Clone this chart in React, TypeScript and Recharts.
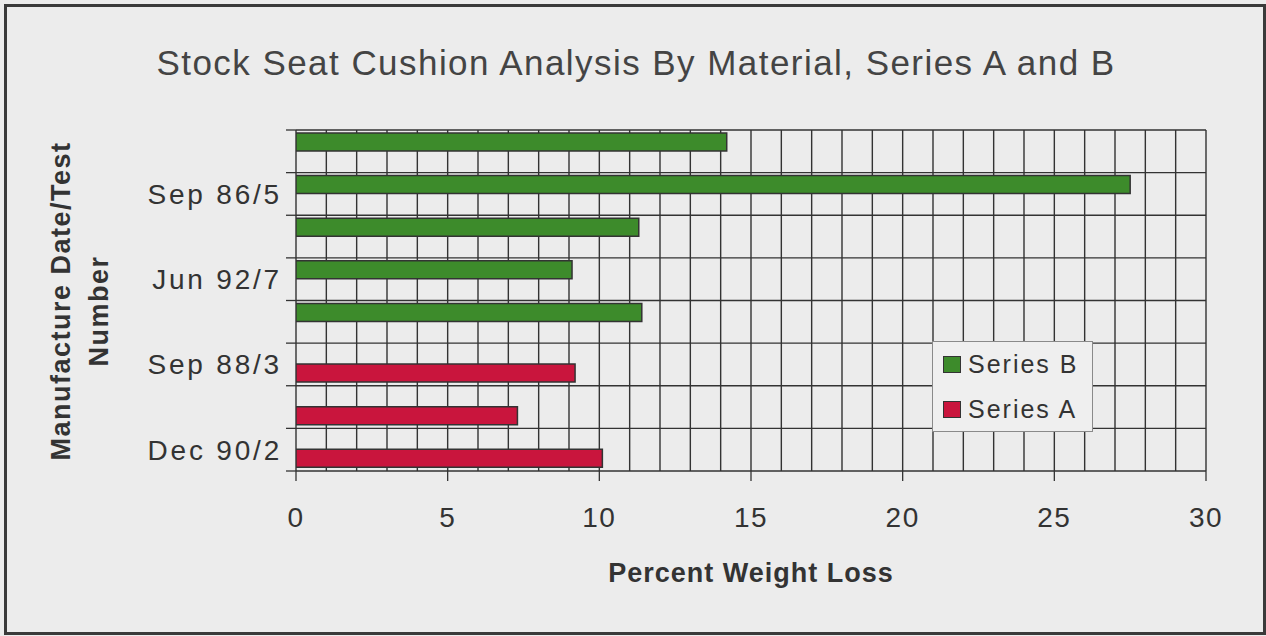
import React from "react";
import { BarChart, Bar, XAxis, YAxis, CartesianGrid, ReferenceLine, Legend } from "recharts";

const categories = ["", "Sep 86/5", "", "Jun 92/7", "", "Sep 88/3", "", "Dec 90/2"];
const seriesB = [14.2, 27.5, 11.3, 9.1, 11.4, null, null, null];
const seriesA = [null, null, null, null, null, 9.2, 7.3, 10.1];
const xTicks = [0, 5, 10, 15, 20, 25, 30];
const xGridTicks = Array.from({ length: 31 }, (_, i) => i);
const legendOrder = ["Series B", "Series A"];

const data = categories.map((c, i) => ({ id: i, label: c, B: seriesB[i], A: seriesA[i] }));

const GREEN = "#3d8b2b";
const RED = "#c9153d";
const INK = "#333333";
const BG = "#ececec";
const FONT = "'Liberation Sans', Arial, sans-serif";
const TICK_MARGIN = 14;
const TICK_LEN = 10;

const LegendBox = (props: any) => {
  const payload = [...(props.payload || [])].sort(
    (a: any, b: any) => legendOrder.indexOf(a.value) - legendOrder.indexOf(b.value)
  );
  return (
    <div
      style={{
        width: 161,
        height: 91,
        boxSizing: "border-box",
        border: "1px solid #8a8a8a",
        background: "#efefef",
        paddingLeft: 10,
      }}
    >
      {payload.map((p: any) => (
        <div key={p.value} style={{ display: "flex", alignItems: "center", height: 45 }}>
          <div
            style={{
              width: 16,
              height: 15,
              background: p.color,
              border: "1.5px solid #333",
              marginRight: 7,
            }}
          />
          <span style={{ fontFamily: FONT, fontSize: 25, letterSpacing: 2, color: INK }}>{p.value}</span>
        </div>
      ))}
    </div>
  );
};

const CatTick = (props: any) => {
  const { x, y, payload, index } = props;
  const idx = typeof index === "number" ? index : payload?.index ?? 0;
  const label = categories[idx] ?? "";
  const off = payload && typeof payload.offset === "number" ? payload.offset : 0;
  const edge = x + TICK_MARGIN;
  return (
    <g>
      {off > 0 && (
        <line x1={edge - TICK_LEN} x2={edge} y1={y - off} y2={y - off} stroke={INK} strokeWidth={1.3} />
      )}
      {off > 0 && idx === categories.length - 1 && (
        <line x1={edge - TICK_LEN} x2={edge} y1={y + off} y2={y + off} stroke={INK} strokeWidth={1.3} />
      )}
      <text
        x={x}
        y={y}
        dy="0.355em"
        textAnchor="end"
        fill={INK}
        fontSize={28}
        fontFamily={FONT}
        letterSpacing={2.8}
      >
        {label}
      </text>
    </g>
  );
};

export default function App() {
  return (
    <div style={{ position: "absolute", left: 0, top: 0, width: 1266, height: 636, background: BG, overflow: "hidden" }}>
      <BarChart
        width={1266}
        height={636}
        data={data}
        layout="vertical"
        margin={{ top: 130, right: 60, bottom: 105, left: 136 }}
        barCategoryGap="7%"
        barGap={0}
      >
        <CartesianGrid
          xAxisId={0}
          yAxisId={1}
          stroke={INK}
          strokeWidth={1.4}
          horizontal={false}
          verticalValues={xGridTicks}
        />
        <XAxis
          xAxisId={0}
          type="number"
          domain={[0, 30]}
          allowDataOverflow
          ticks={xTicks}
          tickSize={10}
          tickMargin={26}
          height={60}
          axisLine={false}
          tickLine={{ stroke: INK, strokeWidth: 1.3 }}
          tick={{ fill: INK, fontSize: 28, fontFamily: FONT, letterSpacing: 1.5 }}
          interval={0}
        />
        <YAxis
          yAxisId={1}
          type="category"
          dataKey="id"
          width={160}
          tickSize={0}
          tickMargin={TICK_MARGIN}
          axisLine={false}
          tickLine={false}
          interval={0}
          tick={<CatTick />}
        />
        {data.map((d) => (
          <ReferenceLine
            key={"hs" + d.id}
            y={d.id}
            xAxisId={0}
            yAxisId={1}
            position="start"
            stroke={INK}
            strokeWidth={1.4}
          />
        ))}
        <ReferenceLine
          y={data[data.length - 1].id}
          xAxisId={0}
          yAxisId={1}
          position="end"
          stroke={INK}
          strokeWidth={1.4}
        />
        <Bar xAxisId={0} yAxisId={1} dataKey="B" name="Series B" fill={GREEN} stroke={INK} strokeWidth={1.5} isAnimationActive={false} />
        <Bar xAxisId={0} yAxisId={1} dataKey="A" name="Series A" fill={RED} stroke={INK} strokeWidth={1.5} isAnimationActive={false} />
        <Legend
          layout="vertical"
          align="center"
          verticalAlign="middle"
          wrapperStyle={{ left: 932, top: 341, width: 161, height: 91 }}
          content={<LegendBox />}
        />
      </BarChart>
      <svg width={1266} height={636} style={{ position: "absolute", left: 0, top: 0, pointerEvents: "none" }}>
        <rect x={5.5} y={5.5} width={1259} height={628} fill="none" stroke="#3a3a3a" strokeWidth={3} />
        <text x={636} y={75} textAnchor="middle" fontFamily={FONT} fontSize={35} letterSpacing={1.45} fill="#444">
          Stock Seat Cushion Analysis By Material, Series A and B
        </text>
        <text x={751} y={582} textAnchor="middle" fontFamily={FONT} fontSize={27} fontWeight="bold" letterSpacing={1} fill={INK}>
          Percent Weight Loss
        </text>
        <text transform="translate(70,301) rotate(-90)" textAnchor="middle" fontFamily={FONT} fontSize={27} fontWeight="bold" letterSpacing={1.5} fill={INK}>
          Manufacture Date/Test
        </text>
        <text transform="translate(108,311) rotate(-90)" textAnchor="middle" fontFamily={FONT} fontSize={27} fontWeight="bold" letterSpacing={1.5} fill={INK}>
          Number
        </text>
      </svg>
    </div>
  );
}
